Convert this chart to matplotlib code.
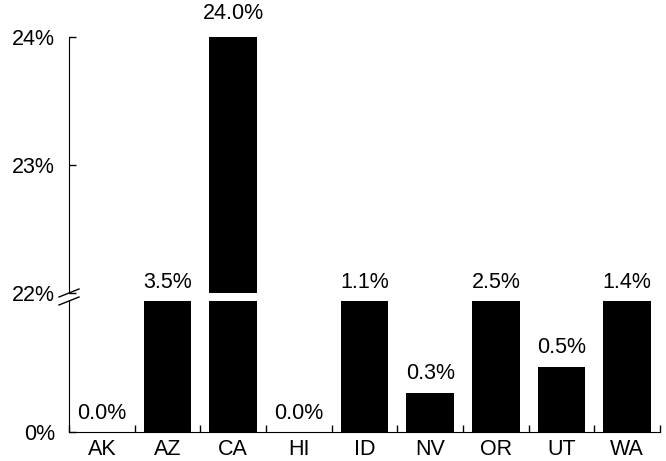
import matplotlib
matplotlib.use("Agg")
import matplotlib.pyplot as plt
import numpy as np

states = ["AK", "AZ", "CA", "HI", "ID", "NV", "OR", "UT", "WA"]
share = [0.0, 3.5, 24.0, 0.0, 1.1, 0.3, 2.5, 0.5, 1.4]

plt.rcParams["font.family"] = ["Liberation Sans", "DejaVu Sans"]
plt.rcParams["font.size"] = 15.5

W, H = 666, 461
fig = plt.figure(figsize=(W / 100, H / 100), dpi=100)

left, right = 69 / W, 660 / W
ax_top = fig.add_axes([left, 1 - 293 / H, right - left, (293 - 37) / H])
ax_bot = fig.add_axes([left, 1 - 432 / H, right - left, (432 - 301) / H])

x = np.arange(len(states))
for ax in (ax_top, ax_bot):
    ax.bar(x, share, width=0.73, color="black")
    ax.set_xlim(-0.5, len(states) - 0.5)
    for s in ("top", "right"):
        ax.spines[s].set_visible(False)
    ax.tick_params(axis="y", direction="in", length=5, width=1, pad=10)

ax_top.set_ylim(22, 24)
ax_top.set_yticks([22, 23, 24])
ax_top.set_yticklabels(["22%", "23%", "24%"])
ax_top.spines["bottom"].set_visible(False)
ax_top.set_xticks([])

ax_bot.set_ylim(0, 1.0)
ax_bot.set_yticks([0])
ax_bot.set_yticklabels(["0%"])
ax_bot.set_xticks(x)
ax_bot.set_xticklabels(states)
ax_bot.tick_params(axis="x", which="major", length=0, pad=5)
ax_bot.set_xticks(np.arange(len(states) + 1) - 0.5, minor=True)
ax_bot.tick_params(axis="x", which="minor", direction="in", length=5, width=1)

# value labels
for i, v in enumerate(share):
    if v >= 22:
        ax, yv, off = ax_top, v, 9
    else:
        ax, yv, off = ax_bot, min(v, 1.0), 6
    ax.annotate(f"{v:.1f}%", (i, yv), xytext=(0, off), textcoords="offset points",
                ha="center", va="bottom", annotation_clip=False)

# break marks on left spine
for yp in (293, 301):
    fy = 1 - yp / H
    fig.add_artist(plt.Line2D([left - 10 / W, left + 10 / W], [fy - 4 / H, fy + 4 / H],
                              transform=fig.transFigure, color="black", lw=1))

fig.savefig("out.png", dpi=100)
